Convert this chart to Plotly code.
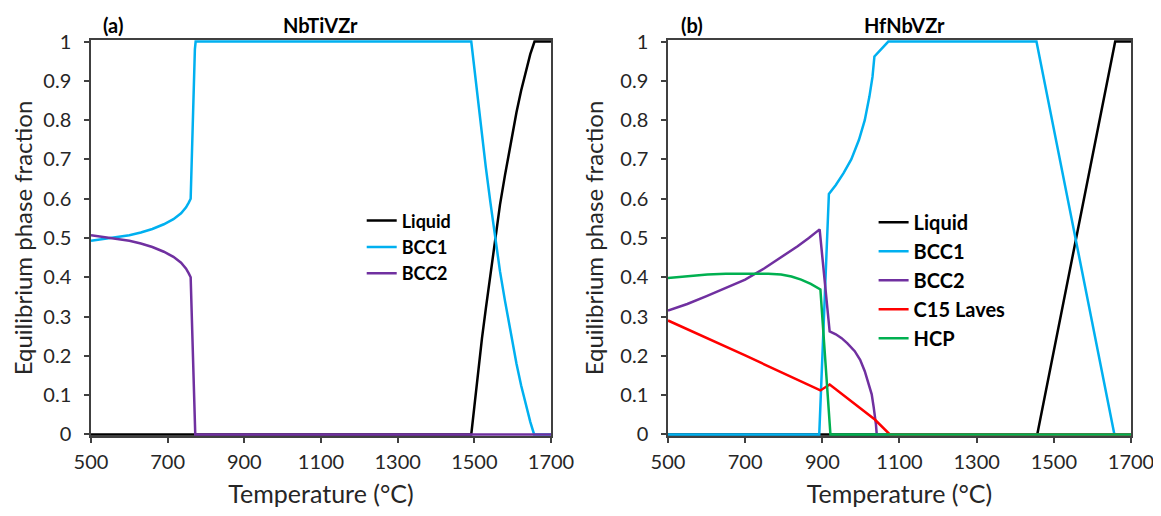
import plotly.graph_objects as go

# ---------------- data ----------------
# Panel (a) NbTiVZr
T_a_liq = [500, 1492, 1500, 1510, 1520, 1530, 1542, 1554, 1567, 1580, 1595, 1610, 1622, 1635, 1646, 1657, 1700]
liq_a = [0, 0, 0.07, 0.16, 0.245, 0.32, 0.41, 0.50, 0.585, 0.66, 0.745, 0.82, 0.875, 0.93, 0.968, 1.0, 1.0]

T_a_bcc1 = [500, 530, 560, 600, 630, 660, 690, 715, 735, 748, 755, 760, 771, 773,
            1492, 1500, 1510, 1520, 1530, 1542, 1554, 1567, 1580, 1595, 1610, 1622, 1635, 1646, 1656, 1700]
bcc1_a = [0.493, 0.497, 0.500, 0.507, 0.514, 0.523, 0.535, 0.548, 0.563, 0.578, 0.59, 0.600, 0.98, 1.0,
          1.0, 0.93, 0.84, 0.755, 0.68, 0.59, 0.50, 0.415, 0.34, 0.255, 0.18, 0.125, 0.07, 0.032, 0, 0]

T_a_bcc2 = [500, 530, 560, 600, 630, 660, 690, 715, 735, 748, 755, 760, 772, 1700]
bcc2_a = [0.507, 0.503, 0.500, 0.493, 0.486, 0.477, 0.465, 0.452, 0.437, 0.422, 0.41, 0.400, 0, 0]

# Panel (b) HfNbVZr
T_b_liq = [500, 1457, 1659, 1700]
liq_b = [0, 0, 1.0, 1.0]

T_b_bcc1 = [500, 892, 917, 935, 955, 975, 995, 1010, 1022, 1030, 1035, 1071, 1455, 1657, 1700]
bcc1_b = [0, 0, 0.612, 0.635, 0.665, 0.70, 0.75, 0.80, 0.86, 0.91, 0.962, 1.0, 1.0, 0, 0]

T_b_bcc2 = [500, 550, 600, 650, 700, 750, 800, 836, 865, 893,
            919, 935, 950, 965, 984, 998, 1010, 1020, 1028, 1033, 1036, 1039, 1041, 1700]
bcc2_b = [0.315, 0.332, 0.352, 0.372, 0.394, 0.423, 0.455, 0.479, 0.50, 0.522,
          0.262, 0.255, 0.245, 0.232, 0.212, 0.19, 0.161, 0.13, 0.102, 0.07, 0.051, 0.025, 0, 0]

T_b_c15 = [500, 700, 895, 919, 1036, 1075, 1700]
c15_b = [0.290, 0.201, 0.112, 0.127, 0.038, 0, 0]

T_b_hcp = [500, 550, 602, 650, 715, 760, 793, 820, 845, 870, 895, 921, 1700]
hcp_b = [0.398, 0.403, 0.407, 0.409, 0.410, 0.409, 0.407, 0.402, 0.394, 0.383, 0.369, 0, 0]

x_ticks = [500, 700, 900, 1100, 1300, 1500, 1700]
titles = ["NbTiVZr", "HfNbVZr"]
labels = ["(a)", "(b)"]

# ---------------- styling ----------------
FONT = "Lato"
C_LIQ, C_BCC1, C_BCC2, C_C15, C_HCP = "#000000", "#00B0F0", "#7030A0", "#FF0000", "#00B050"
LW = 2.5

fig = go.Figure()


def add(x, y, name, color, xa, ya, leg):
    fig.add_trace(go.Scatter(x=x, y=y, name=name, mode="lines",
                             line=dict(color=color, width=LW),
                             xaxis=xa, yaxis=ya, legend=leg))


add(T_a_liq, liq_a, "Liquid", C_LIQ, "x", "y", "legend")
add(T_a_bcc1, bcc1_a, "BCC1", C_BCC1, "x", "y", "legend")
add(T_a_bcc2, bcc2_a, "BCC2", C_BCC2, "x", "y", "legend")

add(T_b_liq, liq_b, "Liquid", C_LIQ, "x2", "y2", "legend2")
add(T_b_bcc1, bcc1_b, "BCC1", C_BCC1, "x2", "y2", "legend2")
add(T_b_bcc2, bcc2_b, "BCC2", C_BCC2, "x2", "y2", "legend2")
add(T_b_c15, c15_b, "C15 Laves", C_C15, "x2", "y2", "legend2")
add(T_b_hcp, hcp_b, "HCP", C_HCP, "x2", "y2", "legend2")

axcommon = dict(showline=True, linecolor="#404040", linewidth=1.5, mirror=True,
                ticks="outside", ticklen=5, tickwidth=1.5, tickcolor="#404040",
                showgrid=False, zeroline=False, layer="below traces", automargin=False,
                ticklabeloverflow="allow",
                tickfont=dict(family=FONT, size=20, color="#262626"))

xcommon = dict(axcommon, range=[500, 1700], tickvals=x_ticks, ticklabelstandoff=2,
               title=dict(text="Temperature (°C)", font=dict(family=FONT, size=25, color="#262626"), standoff=18))
ycommon = dict(axcommon, range=[-0.004, 1.004], tick0=0, dtick=0.1, ticklabelstandoff=9,
               title=dict(text="Equilibrium phase fraction", font=dict(family=FONT, size=24, color="#262626"), standoff=10))

legfont = dict(family=FONT, color="#000000", weight="bold")
legcommon = dict(xanchor="left", yanchor="top", bgcolor="rgba(0,0,0,0)",
                 itemwidth=30, tracegroupgap=0)

fig.update_layout(
    width=1153, height=500,
    margin=dict(l=83, r=30, t=32, b=72),
    paper_bgcolor="white", plot_bgcolor="white",
    font=dict(family=FONT),
    xaxis=dict(xcommon, domain=[0, 0.4423], anchor="y"),
    yaxis=dict(ycommon, domain=[0, 1], anchor="x"),
    xaxis2=dict(xcommon, domain=[0.5548, 1.0], anchor="y2"),
    yaxis2=dict(ycommon, domain=[0, 1], anchor="x2"),
    legend=dict(legcommon, x=0.2603, y=0.590, font=dict(legfont, size=18)),
    legend2=dict(legcommon, x=0.7525, y=0.589, font=dict(legfont, size=20)),
    showlegend=True,
)

ann = []
for lab, tt, xl, xt in [(labels[0], titles[0], 0.0212, 0.221), (labels[1], titles[1], 0.578, 0.782)]:
    ann.append(dict(text=lab, x=xl, y=1, xref="paper", yref="paper", xanchor="center", yanchor="bottom",
                    yshift=1, showarrow=False, font=dict(family=FONT, size=20, color="#000", weight="bold")))
    ann.append(dict(text=tt, x=xt, y=1, xref="paper", yref="paper", xanchor="center", yanchor="bottom",
                    yshift=1, showarrow=False, font=dict(family=FONT, size=20, color="#000", weight="bold")))
fig.update_layout(annotations=ann)

fig.write_html("out.html", post_script="document.body.style.overflow='hidden';")
